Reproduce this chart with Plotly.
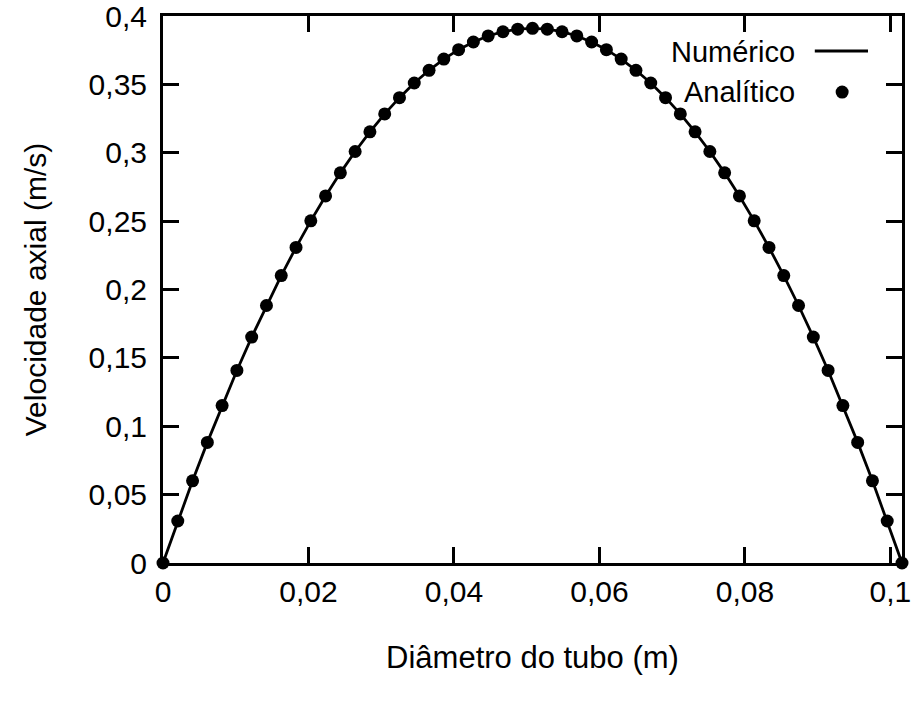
import plotly.graph_objects as go

# Data
diametro = [0, 0.002032, 0.004064, 0.006096, 0.008128, 0.01016, 0.012192, 0.014224,
            0.016256, 0.018288, 0.02032, 0.022352, 0.024384, 0.026416, 0.028448,
            0.03048, 0.032512, 0.034544, 0.036576, 0.038608, 0.04064, 0.042672,
            0.044704, 0.046736, 0.048768, 0.0508, 0.052832, 0.054864, 0.056896,
            0.058928, 0.06096, 0.062992, 0.065024, 0.067056, 0.069088, 0.07112,
            0.073152, 0.075184, 0.077216, 0.079248, 0.08128, 0.083312, 0.085344,
            0.087376, 0.089408, 0.09144, 0.093472, 0.095504, 0.097536, 0.099568, 0.1016]

analitico = [0.0, 0.0307, 0.0601, 0.0882, 0.1151, 0.1408, 0.1652, 0.1883, 0.2102,
             0.2308, 0.2502, 0.2684, 0.2853, 0.3009, 0.3153, 0.3284, 0.3403, 0.3510,
             0.3603, 0.3685, 0.3754, 0.3810, 0.3854, 0.3885, 0.3904, 0.3910,
             0.3904, 0.3885, 0.3854, 0.3810, 0.3754, 0.3685, 0.3603, 0.3510, 0.3403,
             0.3284, 0.3153, 0.3009, 0.2853, 0.2684, 0.2502, 0.2308, 0.2102, 0.1883,
             0.1652, 0.1408, 0.1151, 0.0882, 0.0601, 0.0307, 0.0]

numerico = [0.0, 0.0307, 0.0601, 0.0882, 0.1151, 0.1408, 0.1652, 0.1883, 0.2102,
            0.2308, 0.2502, 0.2684, 0.2853, 0.3009, 0.3153, 0.3284, 0.3403, 0.3510,
            0.3603, 0.3685, 0.3754, 0.3810, 0.3854, 0.3885, 0.3904, 0.3910,
            0.3904, 0.3885, 0.3854, 0.3810, 0.3754, 0.3685, 0.3603, 0.3510, 0.3403,
            0.3284, 0.3153, 0.3009, 0.2853, 0.2684, 0.2502, 0.2308, 0.2102, 0.1883,
            0.1652, 0.1408, 0.1151, 0.0882, 0.0601, 0.0307, 0.0]

x_tickvals = [0, 0.02, 0.04, 0.06, 0.08, 0.1]
x_ticktext = ["0", "0,02", "0,04", "0,06", "0,08", "0,1"]
y_tickvals = [0, 0.05, 0.1, 0.15, 0.2, 0.25, 0.3, 0.35, 0.4]
y_ticktext = ["0", "0,05", "0,1", "0,15", "0,2", "0,25", "0,3", "0,35", "0,4"]

FONT = "Liberation Sans, Arial, sans-serif"
FS = 30

fig = go.Figure()
fig.add_trace(go.Scatter(x=diametro, y=numerico, mode="lines", name="Numérico",
                         line=dict(color="black", width=2.8), showlegend=False,
                         cliponaxis=False))
fig.add_trace(go.Scatter(x=diametro, y=analitico, mode="markers", name="Analítico",
                         marker=dict(color="black", size=13), showlegend=False,
                         cliponaxis=False))

axis_common = dict(showline=True, linecolor="black", linewidth=3, mirror="ticks",
                   ticks="inside", ticklen=16, tickwidth=2.5, tickcolor="black",
                   showgrid=False, zeroline=False, automargin=False,
                   ticklabeloverflow="allow",
                   tickfont=dict(family=FONT, size=FS, color="black"))

fig.update_xaxes(range=[0, 0.1016], tickvals=x_tickvals, ticktext=x_ticktext,
                 ticklabelstandoff=0,
                 title=dict(text="Diâmetro do tubo (m)", standoff=40,
                            font=dict(family=FONT, size=31, color="black")),
                 **axis_common)
fig.update_yaxes(range=[0, 0.4], tickvals=y_tickvals, ticktext=y_ticktext,
                 ticklabelstandoff=7,
                 title=dict(text="Velocidade axial (m/s)", standoff=34,
                            font=dict(family=FONT, size=30, color="black")),
                 **axis_common)

# gnuplot-style key: text right-justified, sample on the right
fig.add_annotation(xref="paper", yref="paper", x=0.858, y=0.934, xanchor="right",
                   yanchor="middle", text="Numérico", showarrow=False,
                   font=dict(family=FONT, size=29, color="black"))
fig.add_annotation(xref="paper", yref="paper", x=0.858, y=0.861, xanchor="right",
                   yanchor="middle", text="Analítico", showarrow=False,
                   font=dict(family=FONT, size=29, color="black"))
fig.add_shape(type="line", xref="paper", yref="paper", x0=0.882, x1=0.954,
              y0=0.936, y1=0.936, line=dict(color="black", width=2.8))
fig.add_shape(type="circle", xref="paper", yref="paper",
              xsizemode="pixel", ysizemode="pixel",
              xanchor=0.919, yanchor=0.861, x0=-6.5, x1=6.5, y0=-6.5, y1=6.5,
              line=dict(color="black", width=0), fillcolor="black")

fig.update_layout(width=916, height=702, plot_bgcolor="white", paper_bgcolor="white",
                  margin=dict(l=163, r=14, t=16, b=139, autoexpand=False),
                  font=dict(family=FONT, size=FS, color="black"))

fig.write_html("out.html")
